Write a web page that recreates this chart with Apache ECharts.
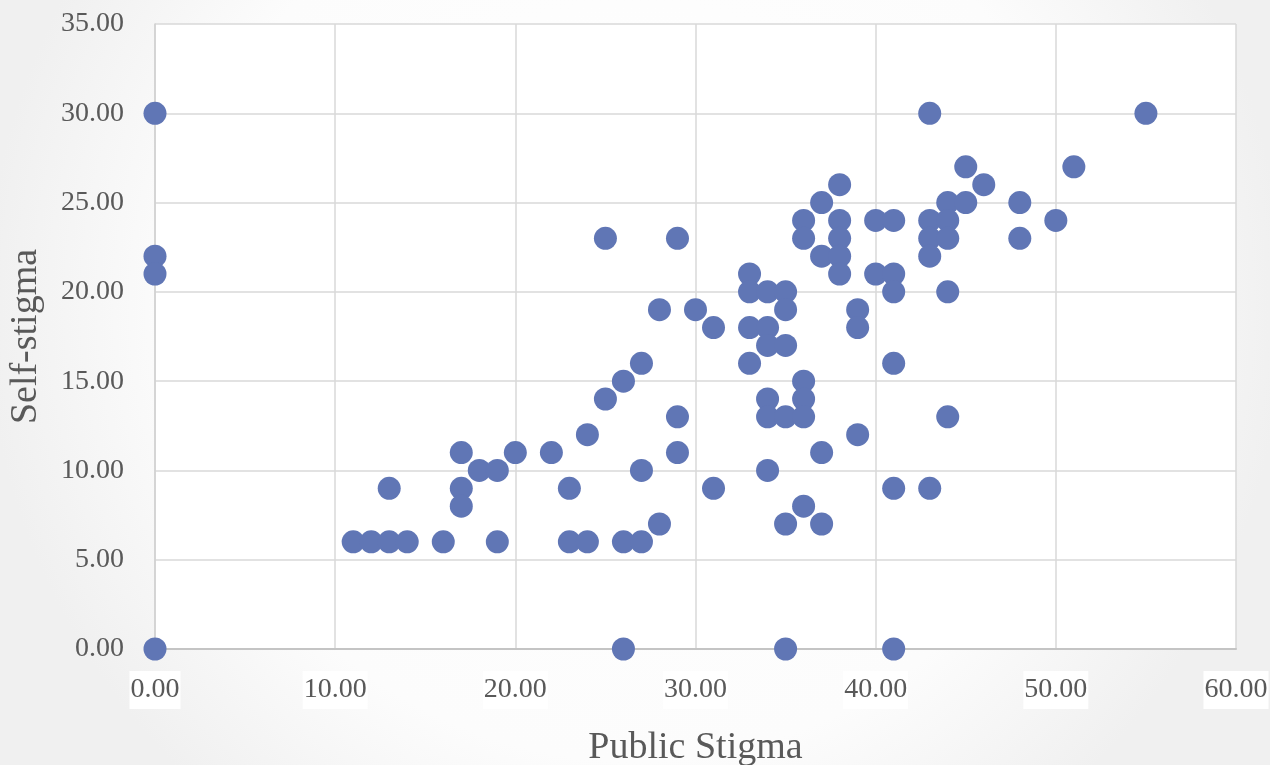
<!DOCTYPE html>
<html>
<head>
<meta charset="utf-8">
<script src="https://cdn.jsdelivr.net/npm/echarts@6/dist/echarts.min.js"></script>
<style>
  html, body { margin: 0; padding: 0; }
  #main { width: 1270px; height: 765px; }
</style>
</head>
<body>
<div id="main"></div>
<script>
// Public Stigma (x) and Self-stigma (y), one entry per respondent
var publicStigma = [
  0, 0, 0, 0,
  11, 12, 13, 14, 13, 16,
  17, 17, 17, 18, 19, 19, 20, 22,
  23, 23, 24, 24, 25, 25,
  26, 26, 26, 27, 27, 27, 28, 28,
  29, 29, 29, 30, 31, 31,
  33, 33, 33, 33,
  34, 34, 34, 34, 34, 34,
  35, 35, 35, 35, 35, 35,
  36, 36, 36, 36, 36, 36,
  37, 37, 37, 37,
  38, 38, 38, 38, 38,
  39, 39, 39,
  40, 40,
  41, 41, 41, 41, 41, 41,
  43, 43, 43, 43, 43,
  44, 44, 44, 44, 44,
  45, 45, 46, 48, 48, 50, 51, 55
];
var selfStigma = [
  30, 22, 21, 0,
  6, 6, 6, 6, 9, 6,
  11, 9, 8, 10, 10, 6, 11, 11,
  9, 6, 12, 6, 23, 14,
  15, 6, 0, 16, 10, 6, 19, 7,
  23, 13, 11, 19, 18, 9,
  21, 20, 18, 16,
  20, 18, 17, 14, 13, 10,
  20, 19, 17, 13, 7, 0,
  24, 23, 15, 14, 13, 8,
  25, 22, 11, 7,
  26, 24, 23, 22, 21,
  19, 18, 12,
  24, 21,
  24, 21, 20, 16, 9, 0,
  30, 24, 23, 22, 9,
  25, 24, 23, 20, 13,
  27, 25, 26, 25, 23, 24, 27, 30
];

var xTicks = [0, 10, 20, 30, 40, 50, 60];
var yTicks = [0, 5, 10, 15, 20, 25, 30, 35];

var points = publicStigma.map(function (x, i) { return [x, selfStigma[i]]; });

var font = "'Liberation Serif', 'DejaVu Serif', serif";
var textColor = "#595959";

var myChart = echarts.init(document.getElementById("main"));

var option = {
  backgroundColor: {
    type: "radial", x: 0.5, y: 0.4, r: 0.85,
    colorStops: [
      { offset: 0, color: "#ffffff" },
      { offset: 0.7, color: "#fcfcfc" },
      { offset: 1, color: "#f0f0f0" }
    ]
  },
  animation: false,
  grid: {
    left: 155, right: 34, top: 24, bottom: 116,
    outerBoundsMode: "none",
    containLabel: false,
    show: true, backgroundColor: "#ffffff", borderWidth: 0
  },
  xAxis: {
    type: "value",
    min: xTicks[0], max: xTicks[xTicks.length - 1], interval: 10,
    name: "Public Stigma",
    nameLocation: "middle",
    nameGap: 80,
    nameTextStyle: { fontFamily: font, fontSize: 38, color: textColor },
    axisLine: { show: true, lineStyle: { color: "#c4c4c4", width: 2 } },
    axisTick: { show: false },
    splitLine: { show: true, lineStyle: { color: "#d9d9d9", width: 1.5 } },
    axisLabel: {
      fontFamily: font, fontSize: 28, color: textColor,
      margin: 22,
      backgroundColor: "#ffffff",
      padding: [5, 1, 5, 1],
      formatter: function (v) { return v.toFixed(2); }
    }
  },
  yAxis: {
    type: "value",
    min: yTicks[0], max: yTicks[yTicks.length - 1], interval: 5,
    name: "Self-stigma",
    nameLocation: "middle",
    nameGap: 110,
    nameTextStyle: { fontFamily: font, fontSize: 38, color: textColor },
    axisLine: { show: true, lineStyle: { color: "#d0d0d0", width: 1.5 } },
    axisTick: { show: false },
    splitLine: { show: true, lineStyle: { color: "#d9d9d9", width: 1.5 } },
    axisLabel: {
      fontFamily: font, fontSize: 28, color: textColor,
      margin: 31,
      formatter: function (v) { return v.toFixed(2); }
    }
  },
  series: [
    {
      type: "scatter",
      data: points,
      symbolSize: 23,
      itemStyle: { color: "#6076b5", opacity: 1 }
    }
  ]
};

myChart.setOption(option);
</script>
</body>
</html>
